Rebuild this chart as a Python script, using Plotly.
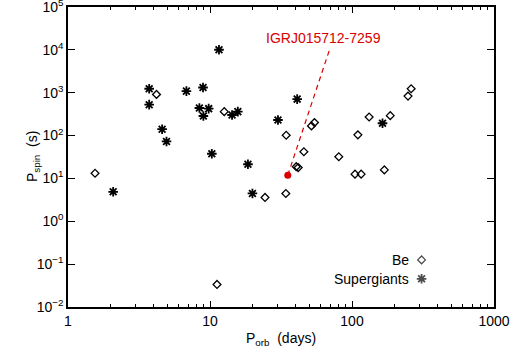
import math
import plotly.graph_objects as go

# Be X-ray binaries: orbital period (days), spin period (s)
be_porb = [1.55, 4.2, 12.6, 34.4, 40.5, 41.8, 45.8, 51.8, 54.4, 80.7, 105, 116, 110,
           132, 186, 169, 248, 261, 24.4, 34.2, 11.2]
be_pspin = [13.2, 912, 362, 102, 18.8, 17.9, 42, 168, 201, 32.1, 12.6, 12.6, 104,
            272, 292, 15.8, 833, 1236, 3.6, 4.46, 0.0336]

# Supergiant X-ray binaries
sg_porb = [3.73, 3.73, 4.6, 4.94, 6.82, 8.93, 8.42, 8.98, 9.79, 11.57, 14.3, 15.7,
           10.3, 18.5, 30.1, 41.1, 164, 2.08, 19.9]
sg_pspin = [1236, 526, 141, 73, 1089, 1325, 440, 286, 425, 10060, 302, 362,
            37.7, 21.4, 231, 710, 194, 4.87, 4.46]

# New source
new_name = "IGRJ015712-7259"
new_porb = [35.3]
new_pspin = [11.9]
label_pos = [69.4, 10000]       # end of the dashed pointer
label_text_pos = [63.4, 19100]  # centre of the label text

x_ticks = [1, 10, 100, 1000]
y_exps = [-2, -1, 0, 1, 2, 3, 4, 5]

RED = "#d80000"
FONT = "Liberation Sans, Arial, sans-serif"

fig = go.Figure()
fig.add_trace(go.Scatter(x=be_porb, y=be_pspin, mode="markers", name="Be",
                         marker=dict(symbol="diamond-open", size=6, color="black",
                                     line=dict(width=1.3, color="black"))))
fig.add_trace(go.Scatter(x=sg_porb, y=sg_pspin, mode="markers", name="Supergiants",
                         marker=dict(symbol="asterisk-open", size=8, color="black",
                                     line=dict(width=1.8, color="black"))))
# dashed pointer line from the new source to its label
fig.add_trace(go.Scatter(x=[new_porb[0], label_pos[0]], y=[new_pspin[0], label_pos[1]],
                         mode="lines", line=dict(color=RED, width=1.2, dash="5px,4px"),
                         showlegend=False))
fig.add_trace(go.Scatter(x=new_porb, y=new_pspin, mode="markers",
                         marker=dict(symbol="circle", size=7, color=RED),
                         showlegend=False))

# legend keys (text left, symbol right) on an overlay axis
fig.add_trace(go.Scatter(x=[0.83, 0.83], y=[0.157, 0.094], mode="markers",
                         xaxis="x2", yaxis="y2", showlegend=False,
                         marker=dict(symbol=["diamond-open", "asterisk-open"], size=[6, 8],
                                     color="black",
                                     line=dict(width=[1.3, 1.8], color="black"))))

minor_x = [m * 10 ** d for d in range(0, 3) for m in range(2, 10)]

fig.update_layout(
    width=529, height=356,
    margin=dict(l=68, r=35, t=7, b=49, autoexpand=False),
    paper_bgcolor="white", plot_bgcolor="white",
    showlegend=False,
    font=dict(family=FONT, size=14, color="black"),
    xaxis=dict(type="log", range=[0, 3], showgrid=False, zeroline=False, color="black",
               automargin=False,
               showline=True, linecolor="black", linewidth=1.5, mirror="ticks",
               ticks="inside", ticklen=6, tickwidth=1, tickcolor="black",
               tickvals=x_ticks, ticktext=[str(v) for v in x_ticks],
               tickfont=dict(color="black", size=14), ticklabeloverflow="allow",
               minor=dict(ticks="inside", ticklen=3, tickcolor="black",
                          tickvals=minor_x, showgrid=False),
               title=dict(text="P<sub>orb</sub>  (days)", standoff=6,
                          font=dict(size=14, color="black"))),
    yaxis=dict(type="log", range=[-2, 5], showgrid=False, zeroline=False,
               color="black", automargin=False,
               showline=True, linecolor="black", linewidth=1.5, mirror="ticks",
               ticks="inside", ticklen=7, tickwidth=1, tickcolor="black",
               tickvals=[10 ** e for e in y_exps],
               ticktext=["10<sup>%d</sup>" % e if e >= 0 else "10<sup>\u2212%d</sup>" % (-e)
                         for e in y_exps],
               tickfont=dict(color="black", size=14), ticklabeloverflow="allow"),
    xaxis2=dict(range=[0, 1], overlaying="x", visible=False, automargin=False),
    yaxis2=dict(range=[0, 1], overlaying="y", visible=False, automargin=False),
    annotations=[
        dict(x=math.log10(label_text_pos[0]), y=math.log10(label_text_pos[1]),
             xref="x", yref="y", text=new_name,
             showarrow=False, font=dict(color=RED, size=14, family=FONT),
             xanchor="center", yanchor="middle"),
        dict(x=0.805, y=0.157, xref="x2", yref="y2", text="Be", showarrow=False,
             xanchor="right", yanchor="middle", font=dict(size=14)),
        dict(x=0.805, y=0.094, xref="x2", yref="y2", text="Supergiants", showarrow=False,
             xanchor="right", yanchor="middle", font=dict(size=14)),
        dict(x=0, y=0.5, xref="paper", yref="paper", xshift=-35, text="P<sub>spin</sub>  (s)",
             textangle=-90, showarrow=False, xanchor="center", yanchor="middle",
             font=dict(size=14)),
    ],
)

fig.write_html("out.html")
